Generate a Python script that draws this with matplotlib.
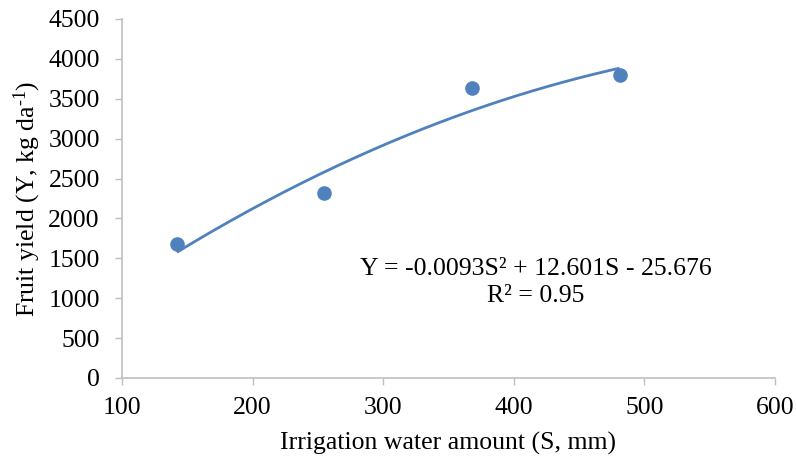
import matplotlib
matplotlib.use("Agg")
import matplotlib.pyplot as plt
import numpy as np

plt.rcParams['font.family'] = ['Liberation Serif', 'DejaVu Serif']
plt.rcParams['mathtext.fontset'] = 'custom'
plt.rcParams['mathtext.rm'] = 'Liberation Serif'
plt.rcParams['mathtext.it'] = 'Liberation Serif:italic'

# Data
irrigation_mm = [142, 255, 368, 481]
fruit_yield = [1676, 2323, 3639, 3802]
# Displayed quadratic trend coefficients (a*S^2 + b*S + c)
trend_coeffs = [-0.0093, 12.601, -25.676]
equation_text = "Y = -0.0093S² + 12.601S - 25.676\nR² = 0.95"
x_ticks = [100, 200, 300, 400, 500, 600]
y_ticks = [0, 500, 1000, 1500, 2000, 2500, 3000, 3500, 4000, 4500]

blue = '#4F81BD'
grey = '#BFBFBF'
fs = 18.5

fig = plt.figure(figsize=(7.96, 4.66), dpi=100)
ax = fig.add_axes([122/796, 1 - 378/466, (775 - 122)/796, (378 - 19)/466])

xs = np.linspace(min(irrigation_mm), max(irrigation_mm), 200)
ax.plot(xs, np.polyval(trend_coeffs, xs), color=blue, lw=2.0, solid_capstyle='butt', zorder=2)
ax.plot(irrigation_mm, fruit_yield, 'o', color=blue, markersize=10.5, markeredgewidth=0, zorder=3)

ax.set_xlim(100, 600)
ax.set_ylim(0, 4500)
ax.set_xticks(x_ticks)
ax.set_yticks(y_ticks)
ax.tick_params(axis='both', direction='out', length=5, width=1, color=grey, labelsize=fs)
ax.tick_params(axis='y', pad=11)
ax.tick_params(axis='x', pad=9)

for s in ['top', 'right']:
    ax.spines[s].set_visible(False)
for s in ['left', 'bottom']:
    ax.spines[s].set_color(grey)
    ax.spines[s].set_linewidth(1.2)

ax.set_xlabel('Irrigation water amount (S, mm)', fontsize=fs, labelpad=9)
ax.set_ylabel(r'Fruit yield (Y, kg da$^{\text{-}1}$)', fontsize=fs, labelpad=4)

ax.text(417, 1200, equation_text, fontsize=fs, ha='center', va='center', linespacing=1.3)

fig.savefig('out.png', dpi=100)
